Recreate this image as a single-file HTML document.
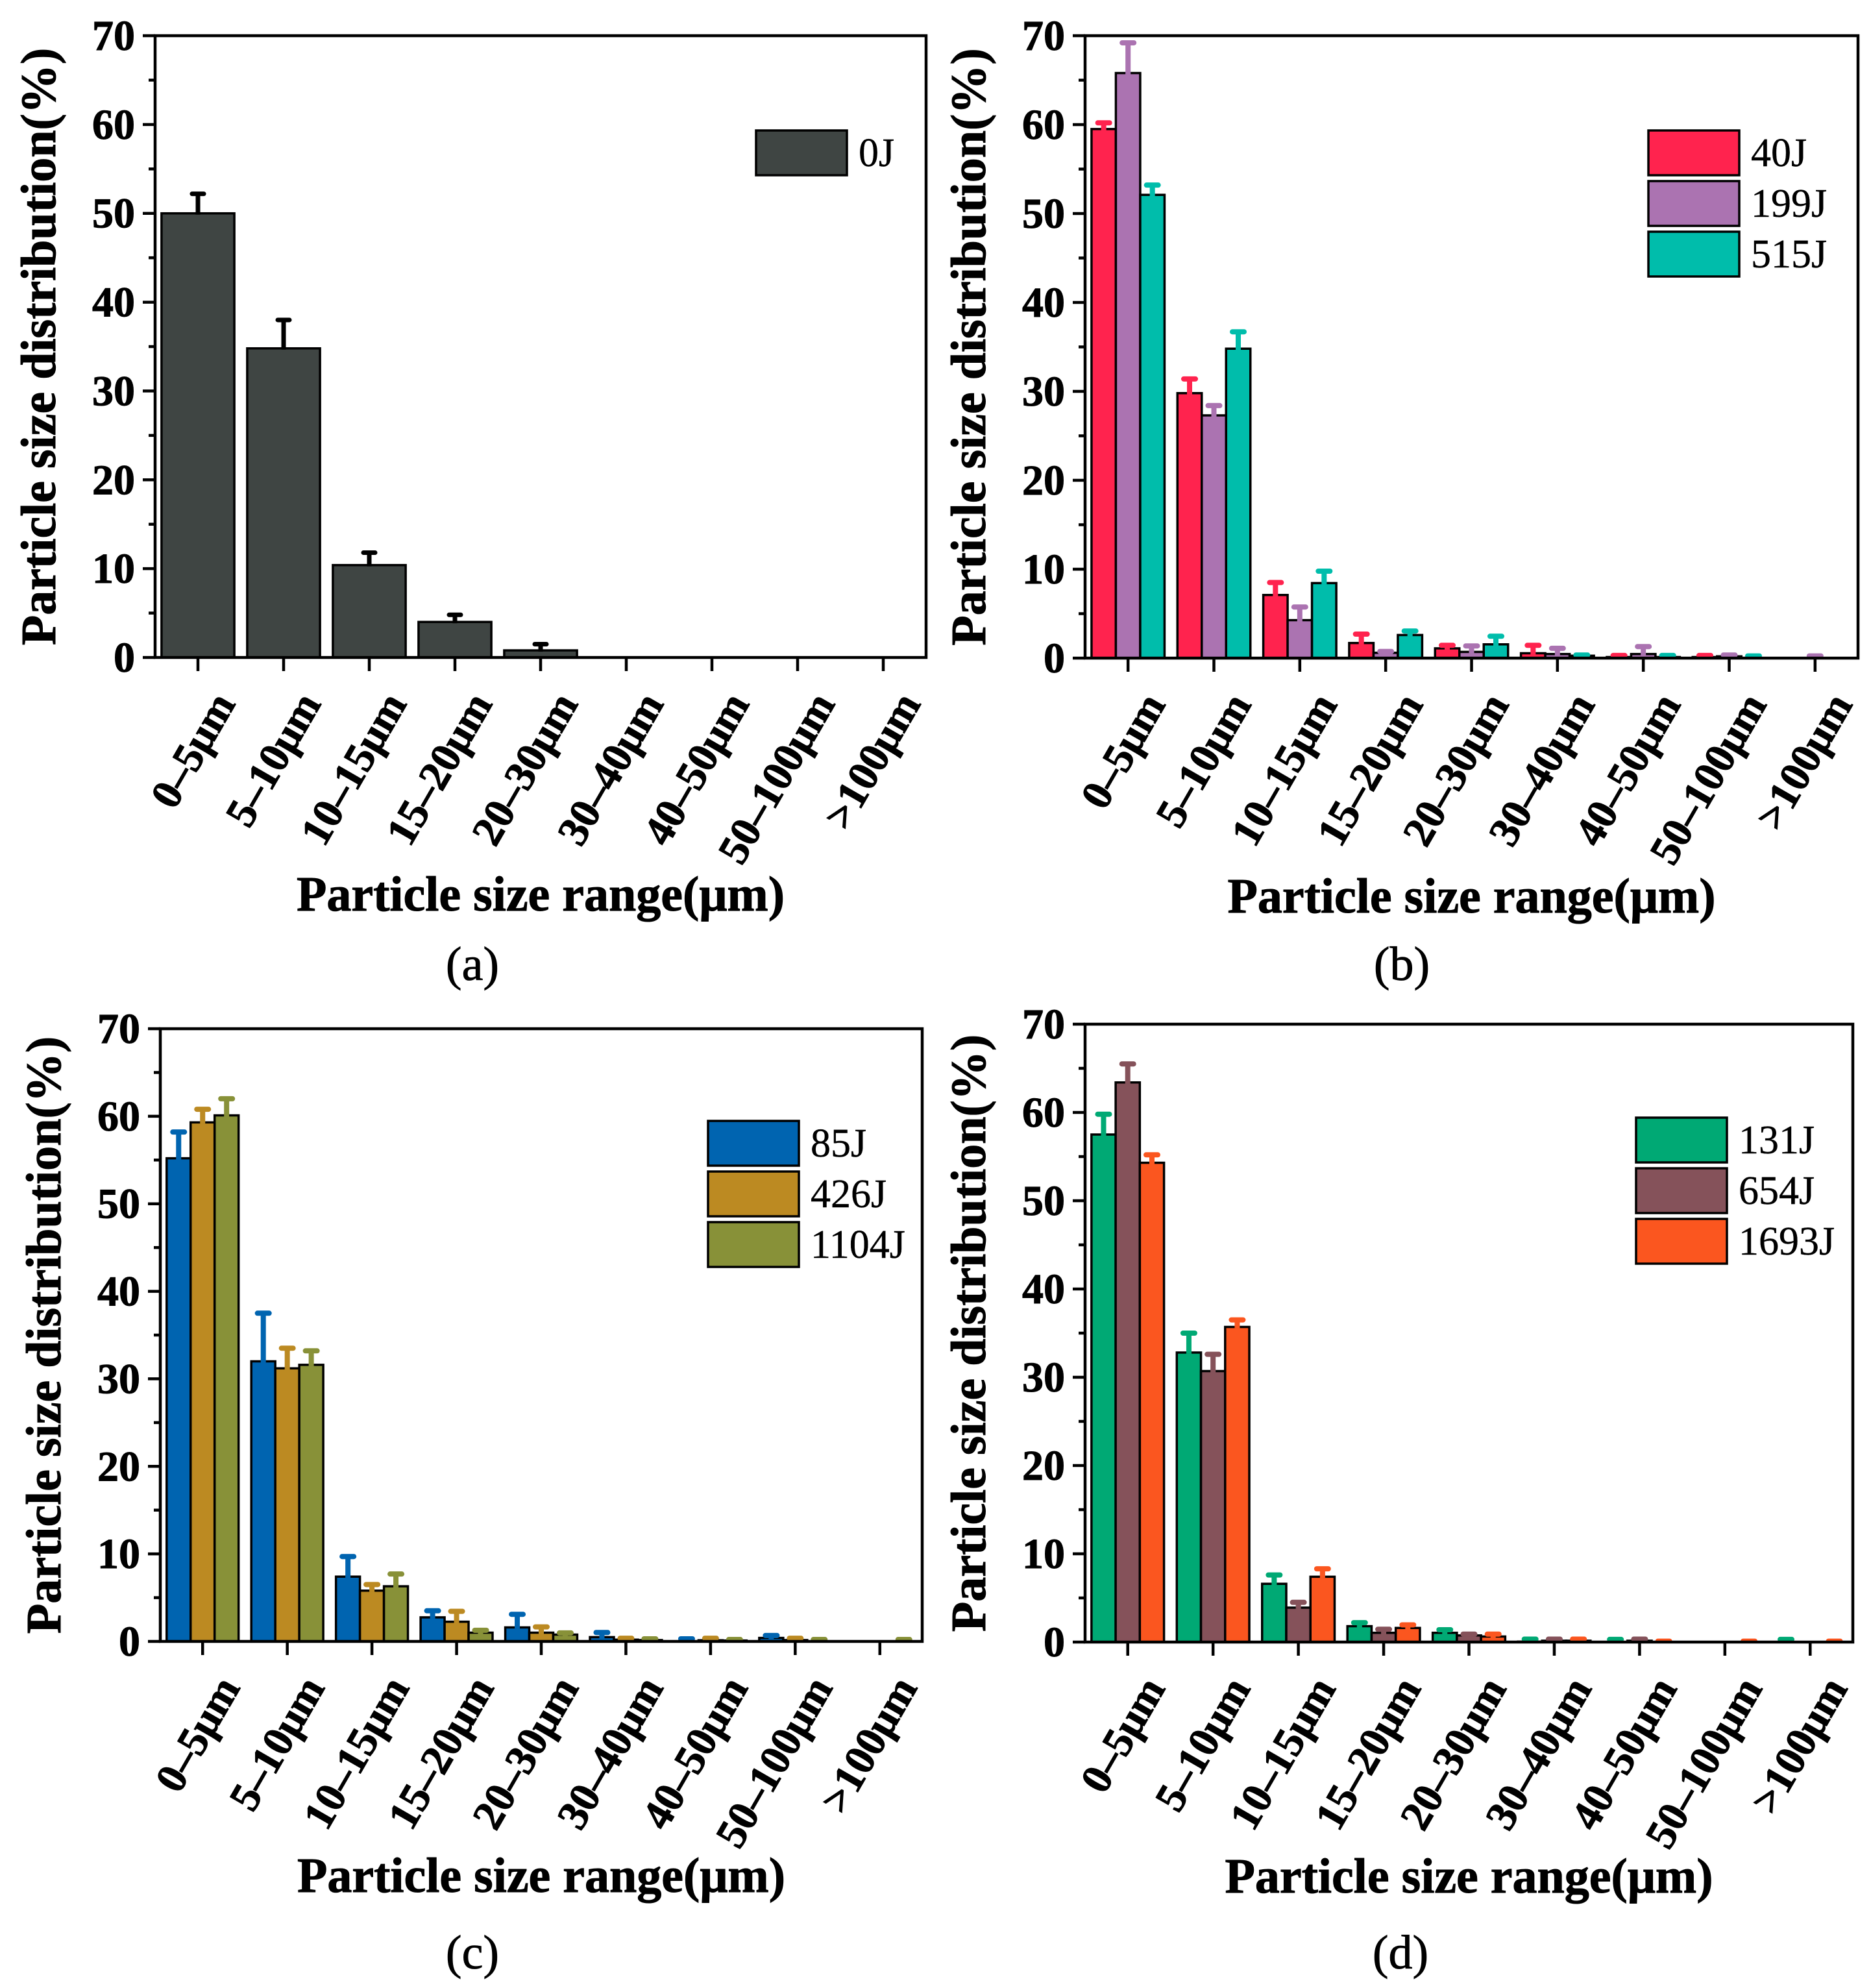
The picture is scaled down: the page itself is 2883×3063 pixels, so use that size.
<!DOCTYPE html>
<html lang="en">
<head>
<meta charset="utf-8">
<title>Particle size distribution panels</title>
<style>
html,body{margin:0;padding:0;background:#fff;}
svg{display:block;font-family:"Liberation Serif",serif;}
</style>
</head>
<body>
<svg id="figure" xmlns="http://www.w3.org/2000/svg" width="2883" height="3063" viewBox="0 0 2883 3063"></svg>
<script>
const categories = ['0–5μm','5–10μm','10–15μm','15–20μm','20–30μm','30–40μm','40–50μm','50–100μm','>100μm'];
const yTickLabels = [0,10,20,30,40,50,60,70];
const yMinorTicks = [5,15,25,35,45,55,65];
const yTitleText = 'Particle size distribution(%)';
const xTitleText = 'Particle size range(μm)';

const values0J     = [50,34.8,10.4,4,0.8,0,0,0,0];
const errorTops0J  = [52.2,38,11.8,4.8,1.5,0,0,0,0];

const values40J    = [59.5,29.8,7.1,1.7,1.1,0.55,0.12,0.12,0];
const errorTops40J = [60.2,31.4,8.5,2.7,1.44,1.44,0.3,0.3,0];
const values199J   = [65.8,27.3,4.27,0.6,0.7,0.46,0.46,0.2,0];
const errorTops199J= [69.2,28.4,5.75,0.75,1.37,1.1,1.3,0.35,0.25];
const values515J   = [52.1,34.8,8.44,2.6,1.55,0.27,0.12,0,0];
const errorTops515J= [53.2,36.7,9.78,3.05,2.46,0.35,0.3,0.25,0];

const values85J    = [55.2,32,7.4,2.75,1.6,0.49,0,0.4,0];
const errorTops85J = [58.2,37.5,9.7,3.5,3.1,1.02,0.3,0.68,0];
const values426J   = [59.3,31.2,5.8,2.25,1,0.2,0.13,0.15,0];
const errorTops426J= [60.8,33.5,6.5,3.44,1.66,0.36,0.36,0.36,0];
const values1104J  = [60.1,31.6,6.3,1,0.78,0.15,0.1,0,0];
const errorTops1104J=[62,33.2,7.7,1.27,0.97,0.3,0.22,0.22,0.22];

const values131J   = [57.5,32.8,6.6,1.8,1.05,0.05,0,0,0];
const errorTops131J= [59.8,35,7.6,2.2,1.4,0.33,0.3,0,0.3];
const values654J   = [63.4,30.7,3.9,1.05,0.75,0.15,0.15,0,0];
const errorTops654J= [65.5,32.6,4.5,1.45,0.9,0.33,0.33,0,0];
const values1693J  = [54.3,35.7,7.4,1.6,0.63,0.15,0,0,0];
const errorTops1693J=[55.2,36.5,8.3,1.95,0.9,0.33,0.1,0.1,0.1];

const NS = 'http://www.w3.org/2000/svg';
const root = document.getElementById('figure');

function make(parent, tag, attrs, text){
  const el = document.createElementNS(NS, tag);
  for (const k in attrs) el.setAttribute(k, attrs[k]);
  if (text !== undefined) el.textContent = text;
  parent.appendChild(el);
  return el;
}

function drawPanel(p){
  const g = make(root, 'g', {});
  
  

  const yScale = v => p.bottom - (v / 70) * (p.bottom - p.top);
  const band = (p.right - p.left) / categories.length;
  const xCenter = i => p.left + (i + 0.5) * band;
  const groupWidth = band * 0.85;
  const barWidth = groupWidth / p.series.length;
  const capHalf = 9;

  const clipId = 'clip-' + p.id;
  const defs = make(g, 'defs', {});
  const clip = make(defs, 'clipPath', {id: clipId});
  make(clip, 'rect', {x: p.left, y: p.top, width: p.right - p.left, height: p.bottom - p.top});

  const marks = make(g, 'g', {'clip-path': 'url(#' + clipId + ')'});
  
  

  p.series.forEach((s, si) => {
    categories.forEach((c, i) => {
      const x0 = xCenter(i) - groupWidth / 2 + si * barWidth;
      const val = s.values[i];
      if (val > 0) {
        const bar = make(marks, 'rect', {
          x: x0, y: yScale(val), width: barWidth, height: Math.max(0, p.bottom - yScale(val)),
          fill: s.color, stroke: '#000', 'stroke-width': 3.5
        });
        
        
      }
    });
  });
  p.series.forEach((s, si) => {
    categories.forEach((c, i) => {
      const xm = xCenter(i) - groupWidth / 2 + (si + 0.5) * barWidth;
      const val = s.values[i];
      const top = s.errorTops[i];
      if (top > 0) {
        const stem = make(marks, 'line', {
          x1: xm, x2: xm, y1: yScale(val) + 2, y2: yScale(top),
          stroke: s.errorColor, 'stroke-width': p.errWidth
        });
        
        
        const cap = make(marks, 'line', {
          x1: xm - capHalf, x2: xm + capHalf, y1: yScale(top), y2: yScale(top),
          stroke: s.errorColor, 'stroke-width': p.errWidth, 'stroke-linecap': 'round'
        });
        
        
      }
    });
  });

  const frame = make(g, 'rect', {
    x: p.left, y: p.top, width: p.right - p.left, height: p.bottom - p.top,
    fill: 'none', stroke: '#000', 'stroke-width': 4.5
  });
  
  

  yTickLabels.forEach(v => {
    const y = yScale(v);
    const tick = make(g, 'line', {x1: p.left - 19, x2: p.left, y1: y, y2: y, stroke: '#000', 'stroke-width': 4.5});
    
    
    const label = make(g, 'text', {
      x: p.left - 31, y: y + 22, 'text-anchor': 'end', 'font-size': 66, 'font-weight': 'bold',
      stroke: '#000', 'stroke-width': 1
    }, String(v));
    
    
  });
  yMinorTicks.forEach(v => {
    const y = yScale(v);
    const tick = make(g, 'line', {x1: p.left - 10, x2: p.left, y1: y, y2: y, stroke: '#000', 'stroke-width': 4.5});
    
    
  });

  categories.forEach((c, i) => {
    const x = xCenter(i);
    const tick = make(g, 'line', {x1: x, x2: x, y1: p.bottom, y2: p.bottom + 21, stroke: '#000', 'stroke-width': 4.5});
    
    
    const lx = x + 59, ly = p.bottom + 71;
    const label = make(g, 'text', {
      x: lx, y: ly, 'text-anchor': 'end', 'font-size': 66, 'font-weight': 'bold',
      stroke: '#000', 'stroke-width': 1,
      transform: 'rotate(-60 ' + lx + ' ' + ly + ')'
    }, c);
    
    
  });

  const ty = (p.top + p.bottom) / 2, tx = p.left - 154;
  const yTitle = make(g, 'text', {
    x: tx, y: ty, 'text-anchor': 'middle', 'font-size': 76, 'font-weight': 'bold',
    stroke: '#000', 'stroke-width': 1,
    transform: 'rotate(-90 ' + tx + ' ' + ty + ')'
  }, yTitleText);
  
  

  const xTitle = make(g, 'text', {
    x: (p.left + p.right) / 2, y: p.xTitleY, 'text-anchor': 'middle', 'font-size': 76, 'font-weight': 'bold',
    stroke: '#000', 'stroke-width': 1
  }, xTitleText);
  
  

  const sub = make(g, 'text', {
    x: p.subX, y: p.subY, 'text-anchor': 'middle', 'font-size': 74,
    stroke: '#000', 'stroke-width': 0.8
  }, '(' + p.id + ')');
  
  

  p.series.forEach((s, si) => {
    const y = p.legendY + si * p.legendStep;
    const swatch = make(g, 'rect', {
      x: p.legendX, y: y, width: 140, height: 69, fill: s.color, stroke: '#000', 'stroke-width': 3.5
    });
    
    
    const text = make(g, 'text', {
      x: p.legendX + 158, y: y + 55, 'font-size': 62, stroke: '#000', 'stroke-width': 0.4
    }, s.name);
    
    
  });
}

drawPanel({
  id:'a', left:239, right:1427, top:55, bottom:1013, xTitleY:1403, subX:728, subY:1510,
  legendX:1165, legendY:201, legendStep:78, errWidth:7,
  series:[{name:'0J', color:'#3F4543', errorColor:'#000', values:values0J, errorTops:errorTops0J}]
});
drawPanel({
  id:'b', left:1672, right:2863, top:55, bottom:1014, xTitleY:1406, subX:2160, subY:1510,
  legendX:2540, legendY:201, legendStep:78, errWidth:8,
  series:[
    {name:'40J', color:'#FF234E', errorColor:'#FF234E', values:values40J, errorTops:errorTops40J},
    {name:'199J', color:'#AB73B1', errorColor:'#AB73B1', values:values199J, errorTops:errorTops199J},
    {name:'515J', color:'#00BDAB', errorColor:'#00BDAB', values:values515J, errorTops:errorTops515J}
  ]
});
drawPanel({
  id:'c', left:247, right:1421, top:1585, bottom:2529, xTitleY:2915, subX:728, subY:3033,
  legendX:1091, legendY:1727, legendStep:78, errWidth:8,
  series:[
    {name:'85J', color:'#0064B0', errorColor:'#0064B0', values:values85J, errorTops:errorTops85J},
    {name:'426J', color:'#BC8A22', errorColor:'#BC8A22', values:values426J, errorTops:errorTops426J},
    {name:'1104J', color:'#889138', errorColor:'#889138', values:values1104J, errorTops:errorTops1104J}
  ]
});
drawPanel({
  id:'d', left:1672, right:2855, top:1578, bottom:2530, xTitleY:2916, subX:2158, subY:3033,
  legendX:2521, legendY:1722, legendStep:78, errWidth:8,
  series:[
    {name:'131J', color:'#00A974', errorColor:'#00A974', values:values131J, errorTops:errorTops131J},
    {name:'654J', color:'#85525A', errorColor:'#85525A', values:values654J, errorTops:errorTops654J},
    {name:'1693J', color:'#FB561F', errorColor:'#FB561F', values:values1693J, errorTops:errorTops1693J}
  ]
});
</script>
</body>
</html>
